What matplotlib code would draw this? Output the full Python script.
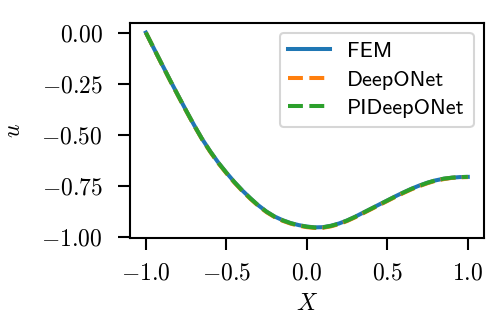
import numpy as np
import matplotlib
matplotlib.use('Agg')
import matplotlib.pyplot as plt

# values
x = [-1.00, -0.95, -0.90, -0.85, -0.80, -0.75, -0.70, -0.65, -0.60, -0.55,
     -0.50, -0.45, -0.40, -0.35, -0.30, -0.25, -0.20, -0.15, -0.10, -0.05,
     0.00, 0.05, 0.10, 0.15, 0.20, 0.25, 0.30, 0.35, 0.40, 0.45,
     0.50, 0.55, 0.60, 0.65, 0.70, 0.75, 0.80, 0.85, 0.90, 0.95, 1.00]
u_fem = [0.000, -0.078, -0.155, -0.232, -0.307, -0.381, -0.453, -0.521,
         -0.581, -0.636, -0.685, -0.731, -0.773, -0.811, -0.846, -0.876,
         -0.900, -0.918, -0.932, -0.942, -0.949, -0.953, -0.952, -0.945,
         -0.934, -0.919, -0.901, -0.881, -0.861, -0.841, -0.821, -0.801,
         -0.782, -0.764, -0.748, -0.734, -0.723, -0.715, -0.710, -0.707,
         -0.706]
u_deeponet = [0.000, -0.079, -0.157, -0.234, -0.309, -0.383, -0.455, -0.523,
              -0.584, -0.639, -0.688, -0.734, -0.776, -0.814, -0.849, -0.879,
              -0.903, -0.921, -0.935, -0.945, -0.952, -0.956, -0.955, -0.948,
              -0.937, -0.922, -0.904, -0.884, -0.864, -0.844, -0.824, -0.804,
              -0.785, -0.767, -0.751, -0.737, -0.725, -0.717, -0.711, -0.708,
              -0.707]
u_pideeponet = [0.000, -0.078, -0.156, -0.233, -0.308, -0.382, -0.454,
                -0.522, -0.582, -0.637, -0.686, -0.732, -0.774, -0.812,
                -0.847, -0.877, -0.901, -0.919, -0.933, -0.943, -0.950,
                -0.954, -0.953, -0.946, -0.935, -0.920, -0.902, -0.882,
                -0.862, -0.842, -0.822, -0.802, -0.783, -0.765, -0.749,
                -0.735, -0.723, -0.715, -0.710, -0.707, -0.706]

xtick_vals = [-1.0, -0.5, 0.0, 0.5, 1.0]
xtick_text = [r'$-1.0$', r'$-0.5$', r'$0.0$', r'$0.5$', r'$1.0$']
ytick_vals = [0.0, -0.25, -0.5, -0.75, -1.0]
ytick_text = [r'$0.00$', r'$-0.25$', r'$-0.50$', r'$-0.75$', r'$-1.00$']

plt.rcParams['mathtext.fontset'] = 'cm'
plt.rcParams['font.family'] = 'cmr10'
plt.rcParams['axes.unicode_minus'] = True


def main():
    fig = plt.figure(figsize=(5.03, 3.17), dpi=100)
    ax = fig.add_axes([0.258, 0.25, 0.704, 0.678])

    ax.plot(x, u_fem, color='#1f77b4', lw=2.9, label='FEM')
    ax.plot(x, u_deeponet, '--', color='#ff7f0e', lw=2.9, label='DeepONet')
    ax.plot(x, u_pideeponet, '--', color='#2ca02c', lw=2.9,
            label='PIDeepONet')

    ax.set_xticks(xtick_vals)
    ax.set_xticklabels(xtick_text)
    ax.set_yticks(ytick_vals)
    ax.set_yticklabels(ytick_text)
    ax.tick_params(labelsize=17, length=8.5, width=1.5)
    ax.tick_params(axis='x', pad=9)
    ax.tick_params(axis='y', pad=11)
    for s in ax.spines.values():
        s.set_linewidth(1.5)

    ax.set_xlabel(r'$X$', fontsize=17, labelpad=6)
    ax.set_ylabel(r'$u$', fontsize=17, labelpad=12)

    leg = ax.legend(loc='upper right', prop={'family': 'cmss10', 'size': 16},
                    handlelength=1.85, borderaxespad=0.45, labelspacing=0.4,
                    framealpha=0.8, edgecolor='#cccccc')
    leg.get_frame().set_linewidth(1.5)

    plt.savefig('out.png', dpi=100, facecolor='white')


main()
